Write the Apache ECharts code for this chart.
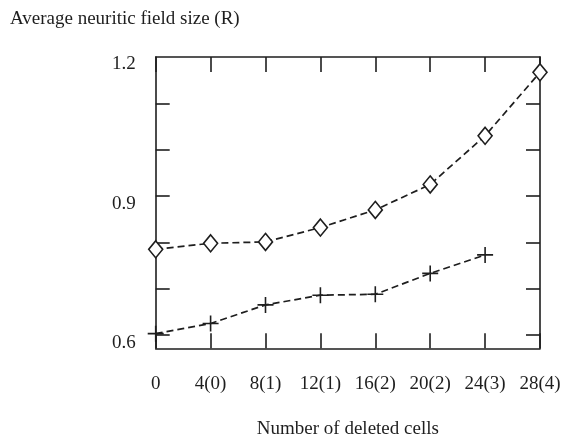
<!DOCTYPE html>
<html>
<head>
<meta charset="utf-8">
<script src="https://cdn.jsdelivr.net/npm/echarts@6/dist/echarts.min.js"></script>
<style>html,body{margin:0;padding:0;background:#fff}#c{width:563px;height:439px}</style>
</head>
<body>
<div id="c"></div>
<script>
const categories = ['0', '4(0)', '8(1)', '12(1)', '16(2)', '20(2)', '24(3)', '28(4)'];
const diamondValues = [0.785, 0.798, 0.801, 0.832, 0.870, 0.925, 1.030, 1.167];
const plusValues = [0.603, 0.625, 0.665, 0.686, 0.688, 0.733, 0.773, null];
const yTickValues = [0.6, 0.7, 0.8, 0.9, 1.0, 1.1];
const yLabelValues = [0.6, 0.9, 1.2];
const yMin = 0.5714, yMax = 1.2;

const ink = '#1e1e1e';
const font = '"Liberation Serif", "DejaVu Serif", serif';
const chart = echarts.init(document.getElementById('c'));
const xBase = {
  type: 'category', data: categories, boundaryGap: false,
  axisLine: { lineStyle: { color: ink, width: 1.6 } },
  axisTick: { inside: true, length: 15, lineStyle: { color: ink, width: 1.6 } },
  splitLine: { show: false }
};
const yBase = {
  type: 'value', min: yMin, max: yMax,
  axisLine: { show: true, lineStyle: { color: ink, width: 1.6 } },
  axisTick: { show: true, inside: true, length: 14, customValues: yTickValues, lineStyle: { color: ink, width: 1.6 } },
  splitLine: { show: false }
};
chart.setOption({
  backgroundColor: '#fff',
  animation: false,
  title: {
    text: 'Average neuritic field size (R)', left: 5, top: 5,
    textStyle: { fontFamily: font, fontSize: 19, fontWeight: 'normal', color: ink }
  },
  grid: { left: 155.7, right: 23, top: 57, bottom: 90.7, containLabel: false, outerBoundsMode: 'none' },
  xAxis: [
    Object.assign({}, xBase, {
      position: 'bottom',
      axisLabel: { margin: 26, fontFamily: font, fontSize: 19, color: ink },
      name: 'Number of deleted cells', nameLocation: 'middle', nameGap: 71,
      nameTextStyle: { fontFamily: font, fontSize: 19, color: ink }
    }),
    Object.assign({}, xBase, { position: 'top', axisLabel: { show: false } })
  ],
  yAxis: [
    Object.assign({}, yBase, {
      position: 'left',
      axisLabel: { customValues: yLabelValues, margin: 20, fontFamily: font, fontSize: 19, color: ink,
        verticalAlign: 'top', lineHeight: 15, formatter: v => v.toFixed(1) }
    }),
    Object.assign({}, yBase, { position: 'right', axisLabel: { show: false } })
  ],
  series: [
    {
      type: 'line', data: diamondValues, clip: false,
      symbol: 'diamond', symbolSize: [14, 17],
      itemStyle: { color: '#fff', borderColor: ink, borderWidth: 1.6 },
      lineStyle: { color: ink, width: 1.7, type: [7, 4] }
    },
    {
      type: 'line', data: plusValues, clip: false,
      symbol: 'path://M0,8H16M8,0V16', symbolSize: 16,
      itemStyle: { color: 'none', borderColor: ink, borderWidth: 1.6 },
      lineStyle: { color: ink, width: 1.7, type: [7, 4] }
    }
  ]
});
</script>
</body>
</html>
